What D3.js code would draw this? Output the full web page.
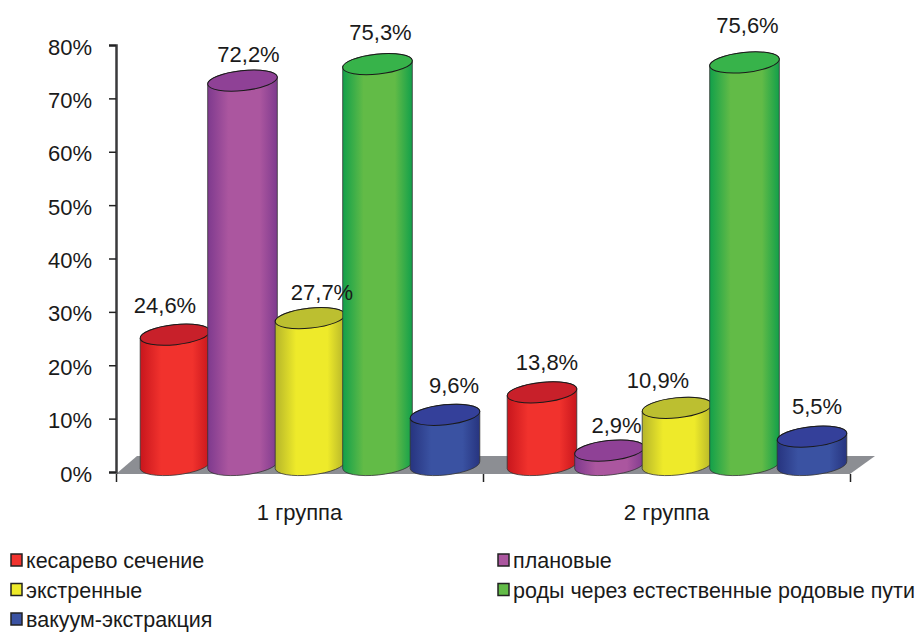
<!DOCTYPE html>
<html lang="ru">
<head>
	<meta charset="UTF-8"/>
	<title>Chart</title>
	<script src="https://d3js.org/d3.v7.min.js"></script>
	<style>
		html, body { margin: 0; padding: 0; background: #fff; overflow: hidden; }
		text { font-family: "Liberation Sans", Arial, sans-serif; fill: #1a1a1a; }
	</style>
</head>
<body>
	<script>
		var w = 920;
		var h = 632;

		// data
		var groups = ["1 группа", "2 группа"];
		var seriesNames = ["кесарево сечение", "плановые", "экстренные", "роды через естественные родовые пути", "вакуум-экстракция"];
		var group1 = [24.6, 72.2, 27.7, 75.3, 9.6];
		var group2 = [13.8, 2.9, 10.9, 75.6, 5.5];
		var yTicks = [0, 10, 20, 30, 40, 50, 60, 70, 80];

		// side colours: edge, middle, and colour of the top ellipse
		var edgeColors = ["#c8161d", "#7e3a8e", "#b5b52a", "#12a04a", "#27347f"];
		var midColors = ["#f1322d", "#ab569f", "#eeea2a", "#62bb47", "#3a52a2"];
		var topColors = ["#c8202a", "#8f4196", "#bcbf30", "#37b34a", "#34409a"];

		// hand placement of the value labels, same order as the bars
		var labelDx = [[-10, 6, 12, 3, 9], [5, 7, -19, 3, 5]];
		var labelDy = [-22, -19, -18, -24, -22, -22, -18, -20, -29, -23];

		var rx = 35, ry = 10, tilt = -6;
		var depth = 6; // bars stand behind the axis plane
		var baseDepth = 7;

		var svg = d3.select("body").append("svg")
			.attr("width", w)
			.attr("height", h)
			.style("display", "block");

		var defs = svg.append("defs");
		seriesNames.forEach(function(d, i) {
			var g = defs.append("linearGradient").attr("id", "side" + i);
			g.append("stop").attr("offset", "0%").attr("stop-color", edgeColors[i]);
			g.append("stop").attr("offset", "30%").attr("stop-color", midColors[i]);
			g.append("stop").attr("offset", "75%").attr("stop-color", midColors[i]);
			g.append("stop").attr("offset", "100%").attr("stop-color", edgeColors[i]);
		});

		var yScale = d3.scaleLinear().domain([0, 80]).range([472, 45]);
		var xGroup = d3.scaleBand().domain(groups).range([116, 850]);
		var xBar = d3.scalePoint().domain(d3.range(seriesNames.length)).range([59, 329]);
		var xEdges = d3.scalePoint().domain(d3.range(groups.length + 1)).range([116, 850]);

		// floor of the 3d plot
		svg.append("path")
			.attr("d", "M" + xEdges(0) + "," + (yScale(0) + 2) + "L137,456L875,456L" + xEdges(2) + "," + (yScale(0) + 2) + "Z")
			.attr("fill", "#8c8e93");

		// y axis
		var yAxis = d3.axisLeft(yScale)
			.tickValues(yTicks)
			.tickFormat(function(d) { return d + "%"; })
			.tickSize(7)
			.tickPadding(17);
		var yG = svg.append("g").attr("transform", "translate(116,0)").call(yAxis);
		yG.select(".domain").attr("stroke", "#3a3a3c").attr("stroke-width", 2.5);
		yG.selectAll(".tick line").attr("stroke", "#222").attr("stroke-width", 1.5);
		yG.selectAll("text").attr("font-size", 22).attr("dy", "0.41em").attr("fill", "#1a1a1a").style("font-family", "Liberation Sans");

		// x axis: only the ticks between the groups
		var xG = svg.append("g").attr("transform", "translate(0,474)")
			.call(d3.axisBottom(xEdges).tickFormat("").tickSize(8));
		xG.select(".domain").remove();
		xG.selectAll(".tick line").attr("stroke", "#222").attr("stroke-width", 1.5);

		var xLabels = svg.append("g").attr("transform", "translate(0,474)")
			.call(d3.axisBottom(xGroup).tickSize(0).tickPadding(30));
		xLabels.select(".domain").remove();
		xLabels.selectAll("text").attr("font-size", 22).attr("fill", "#1a1a1a").style("font-family", "Liberation Sans");

		var rad = tilt * Math.PI / 180;
		var ex = rx * Math.cos(rad), ey = rx * Math.sin(rad);
		var arc = "A" + rx + "," + ry + " " + tilt + " 0 ";

		function sidePath(d) {
			var t = yScale(d.v) - depth, b = yScale(0) - baseDepth;
			return "M" + (d.x - ex) + "," + (t - ey)
				+ arc + "1 " + (d.x + ex) + "," + (t + ey)
				+ "L" + (d.x + ex) + "," + (b + ey)
				+ arc + "1 " + (d.x - ex) + "," + (b - ey) + "Z";
		}

		var bars = [];
		[group1, group2].forEach(function(vals, g) {
			vals.forEach(function(v, s) {
				bars.push({ g: g, s: s, v: v, x: xGroup(groups[g]) + xBar(s) });
			});
		});

		var bar = svg.selectAll(".bar").data(bars).enter().append("g").attr("class", "bar");

		bar.append("path")
			.attr("d", sidePath)
			.attr("fill", function(d) { return "url(#side" + d.s + ")"; })
			.attr("stroke", "#333")
			.attr("stroke-width", 0.8);

		bar.append("ellipse")
			.attr("rx", rx)
			.attr("ry", ry)
			.attr("transform", function(d) {
				return "translate(" + d.x + "," + (yScale(d.v) - depth) + ") rotate(" + tilt + ")";
			})
			.attr("fill", function(d) { return topColors[d.s]; })
			.attr("stroke", "#1a1a1a")
			.attr("stroke-width", 1);

		// value labels go on top of every bar
		svg.selectAll(".value").data(bars).enter().append("text")
			.attr("class", "value")
			.attr("text-anchor", "middle")
			.attr("font-size", 22)
			.attr("x", function(d) { return d.x + labelDx[d.g][d.s]; })
			.attr("y", function(d, i) { return yScale(d.v) - depth + labelDy[i]; })
			.text(function(d) { return String(d.v).replace(".", ",") + "%"; });

		// legend, two columns filled row by row
		var legendCol = d3.scaleOrdinal().domain([0, 1]).range([11, 498]);
		var legendRow = d3.scalePoint().domain([0, 1, 2]).range([560, 619]);

		var item = svg.selectAll(".legend").data(seriesNames).enter().append("g")
			.attr("class", "legend")
			.attr("transform", function(d, i) {
				return "translate(" + legendCol(i % 2) + "," + legendRow(Math.floor(i / 2)) + ")";
			});

		item.append("rect")
			.attr("y", -6)
			.attr("width", 11)
			.attr("height", 12)
			.attr("fill", function(d, i) { return midColors[i]; })
			.attr("stroke", "#222")
			.attr("stroke-width", 1.5);

		item.append("text")
			.attr("x", 15)
			.attr("y", 8)
			.attr("font-size", 21.5)
			.text(function(d) { return d; });
	</script>
</body>
</html>
